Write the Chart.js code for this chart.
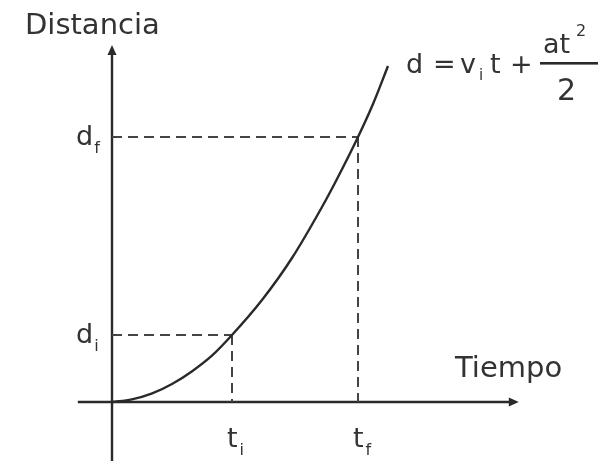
<!DOCTYPE html>
<html>
<head>
<meta charset="utf-8">
<script src="https://cdn.jsdelivr.net/npm/chart.js@4/dist/chart.umd.min.js"></script>
<style>
  html, body { margin: 0; padding: 0; background: #ffffff; }
  canvas { display: block; }
</style>
</head>
<body>
<canvas id="c" width="605" height="461"></canvas>
<script>
// Position–time curve for uniformly accelerated motion
const tiempo    = [0, 0.33, 0.67, 1.0, 1.33, 1.67, 2.0, 2.5, 3.0, 3.5, 3.75, 4.1, 4.35, 4.6];
const distancia = [0, 0.13, 0.43, 0.9, 1.53, 2.33, 3.35, 5.1, 7.2, 9.75, 11.15, 13.25, 14.9, 16.8];

// Marked instants and the distances reached at them
const instantes  = [2.0, 4.1];
const distancias = [3.35, 13.25];
const etiquetasT = [['t', 'i'], ['t', 'f']];
const etiquetasD = [['d', 'i'], ['d', 'f']];

const INK = '#2a2a2a';
const TEXT = '#333333';
const FONT = '"DejaVu Sans", "Liberation Sans", Arial, sans-serif';

const curva = tiempo.map((t, i) => ({ x: t, y: distancia[i] }));

const guias = [];
instantes.forEach((t, i) => {
  const d = distancias[i];
  guias.push({ data: [{ x: 0, y: d }, { x: t, y: d }] });
  guias.push({ data: [{ x: t, y: d }, { x: t, y: 0 }] });
});

// Axes with arrowheads, drawn beneath the curve
const ejes = {
  id: 'ejes',
  beforeDatasetsDraw(chart) {
    const { ctx, scales: { x, y } } = chart;
    const x0 = x.getPixelForValue(0), y0 = y.getPixelForValue(0);
    const xa = x.getPixelForValue(-0.57), xb = x.getPixelForValue(6.78);
    const ya = y.getPixelForValue(-2.95), yb = y.getPixelForValue(17.85);
    ctx.save();
    ctx.strokeStyle = INK;
    ctx.fillStyle = INK;
    ctx.lineWidth = 2.4;
    ctx.beginPath();
    ctx.moveTo(xa, y0); ctx.lineTo(xb - 6, y0);
    ctx.moveTo(x0, ya); ctx.lineTo(x0, yb + 6);
    ctx.stroke();
    // arrowheads
    ctx.beginPath();
    ctx.moveTo(xb, y0); ctx.lineTo(xb - 10, y0 - 4.5); ctx.lineTo(xb - 10, y0 + 4.5);
    ctx.closePath(); ctx.fill();
    ctx.beginPath();
    ctx.moveTo(x0, yb); ctx.lineTo(x0 - 4.5, yb + 10); ctx.lineTo(x0 + 4.5, yb + 10);
    ctx.closePath(); ctx.fill();
    ctx.restore();
  }
};

function sub(ctx, base, s, xLeft, yBase, size, subSize, drop, gap) {
  ctx.font = size + 'px ' + FONT;
  ctx.textAlign = 'left';
  ctx.fillText(base, xLeft, yBase);
  const w = ctx.measureText(base).width;
  ctx.font = subSize + 'px ' + FONT;
  ctx.fillText(s, xLeft + w + (gap || 1), yBase + drop);
}

// Axis titles, tick symbols and the equation
const rotulos = {
  id: 'rotulos',
  afterDraw(chart) {
    const { ctx, scales: { x, y } } = chart;
    const x0 = x.getPixelForValue(0), y0 = y.getPixelForValue(0);
    ctx.save();
    ctx.fillStyle = TEXT;
    ctx.textBaseline = 'alphabetic';

    ctx.font = '29px ' + FONT;
    ctx.textAlign = 'left';
    ctx.fillText('Distancia', 25, 34);
    ctx.fillText('Tiempo', 455, 377);

    instantes.forEach((t, i) => {
      const px = x.getPixelForValue(t);
      sub(ctx, etiquetasT[i][0], etiquetasT[i][1], px - 5, y0 + 45, 27, 16, 8, 2);
    });
    distancias.forEach((d, i) => {
      const py = y.getPixelForValue(d);
      sub(ctx, etiquetasD[i][0], etiquetasD[i][1], x0 - 36, py + 8, 27, 16, 8, 1);
    });

    // d = v_i t + at²/2
    ctx.font = '27px ' + FONT;
    ctx.textAlign = 'left';
    ctx.fillText('d', 406, 73);
    ctx.fillText('=', 433, 73);
    sub(ctx, 'v', 'i', 460, 73, 27, 15, 7, 3);
    ctx.font = '27px ' + FONT;
    ctx.fillText('t', 490, 73);
    ctx.fillText('+', 510, 73);
    ctx.fillText('at', 543, 53);
    ctx.font = '16px ' + FONT;
    ctx.fillText('2', 576, 36);
    ctx.font = '30px ' + FONT;
    ctx.fillText('2', 557, 100);
    ctx.fillStyle = INK;
    ctx.fillRect(540, 62, 58, 2.6);
    ctx.restore();
  }
};

new Chart(document.getElementById('c'), {
  type: 'scatter',
  data: {
    datasets: [
      {
        data: curva,
        showLine: true,
        borderColor: INK,
        borderWidth: 2.4,
        pointRadius: 0,
        cubicInterpolationMode: 'monotone',
        order: 0
      },
      ...guias.map(g => ({
        data: g.data,
        showLine: true,
        borderColor: '#444444',
        borderWidth: 2,
        borderDash: [10, 6],
        pointRadius: 0,
        order: 1
      }))
    ]
  },
  options: {
    responsive: false,
    devicePixelRatio: 1,
    animation: false,
    layout: { padding: 0 },
    plugins: { legend: { display: false }, tooltip: { enabled: false } },
    scales: {
      x: { type: 'linear', display: false, min: -1.8667, max: 8.2167 },
      y: { type: 'linear', display: false, min: -2.95, max: 20.1 }
    }
  },
  plugins: [ejes, rotulos]
});
</script>
</body>
</html>
